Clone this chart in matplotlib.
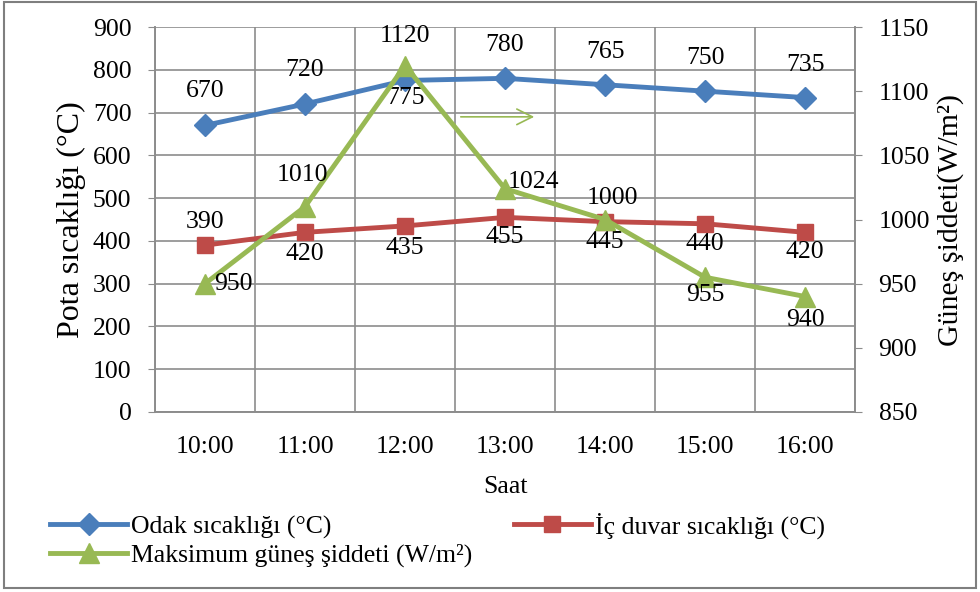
import numpy as np
import matplotlib.pyplot as plt
from matplotlib.patches import Rectangle

plt.rcParams['font.family'] = ['Liberation Serif', 'DejaVu Serif']
plt.rcParams['font.size'] = 18.5

saat = ['10:00', '11:00', '12:00', '13:00', '14:00', '15:00', '16:00']
odak = [670, 720, 775, 780, 765, 750, 735]
duvar = [390, 420, 435, 455, 445, 440, 420]
gunes = [950, 1010, 1120, 1024, 1000, 955, 940]

blue = '#4a7ebb'
red = '#be4b48'
green = '#98b954'
gridc = '#8c8c8c'

fig = plt.figure(figsize=(9.8, 5.92), dpi=100)
ax = fig.add_axes([155 / 980, 1 - 412 / 592, 700 / 980, 385 / 592])
ax2 = ax.twinx()

x = np.arange(len(saat))
l1, = ax.plot(x, odak, color=blue, lw=3.5, marker='D', ms=11, label='Odak sıcaklığı (°C)')
l2, = ax.plot(x, duvar, color=red, lw=3.5, marker='s', ms=12, label='İç duvar sıcaklığı (°C)')
l3, = ax2.plot(x, gunes, color=green, lw=3.5, marker='^', ms=14, label='Maksimum güneş şiddeti (W/m²)')

ax.set_xlim(-0.5, len(saat) - 0.5)
ax.set_ylim(0, 900)
ax.set_yticks(range(0, 901, 100))
ax2.set_ylim(850, 1150)
ax2.set_yticks(range(850, 1151, 50))

ax.set_xticks(x)
ax.set_xticklabels(saat)
ax.set_xticks(np.arange(-0.5, len(saat)), minor=True)
ax.grid(True, axis='y', color=gridc, lw=1.2)
ax.grid(True, axis='x', which='minor', color=gridc, lw=1.2)
ax.set_axisbelow(True)
ax.tick_params(axis='x', which='both', length=0, pad=17)
ax.tick_params(axis='y', length=5, color=gridc, direction='out', pad=12)
ax2.tick_params(axis='y', length=5, color=gridc, direction='out', pad=12)
for a in (ax, ax2):
    for s in a.spines.values():
        s.set_color(gridc)
        s.set_linewidth(1.2)
    a.spines['top'].set_visible(False)

ax.set_xlabel('Saat', labelpad=13)
ax.set_ylabel('Pota sıcaklığı (°C)', fontsize=23, labelpad=5)
ax2.set_ylabel('Güneş şiddeti(W/m²)', fontsize=21.5, labelpad=5)

# value labels, offsets in pixels
odak_off = [(0, 34), (0, 34), (0, -18), (0, 33), (0, 33), (0, 33), (0, 33)]
duvar_off = [(0, 23), (0, -22), (0, -22), (0, -20), (0, -20), (0, -20), (0, -20)]
gunes_off = [(28, 0), (-3, 32), (0, 30), (28, 7), (7, 22), (0, -18), (0, -23)]
for xi, v, o in zip(x, odak, odak_off):
    ax.annotate(str(v), (xi, v), xytext=o, textcoords='offset pixels', ha='center', va='center')
for xi, v, o in zip(x, duvar, duvar_off):
    ax.annotate(str(v), (xi, v), xytext=o, textcoords='offset pixels', ha='center', va='center')
for xi, v, o in zip(x, gunes, gunes_off):
    ax2.annotate(str(v), (xi, v), xytext=o, textcoords='offset pixels', ha='center', va='center')

# arrow pointing to the right axis
ax.annotate('', xy=(3.32, 690), xytext=(2.53, 690),
            arrowprops=dict(arrowstyle='->', color=green, lw=1.2, mutation_scale=28))

fig.legend(handles=[l1, l3, l2], loc='upper left', bbox_to_anchor=(40 / 980, 1 - 502 / 592),
           ncol=2, frameon=False, handlelength=3.0, handletextpad=0.15,
           columnspacing=1.6, labelspacing=0.2, borderaxespad=0, fontsize=18.5)

fig.patches.append(Rectangle((0.004, 0.006), 0.992, 0.99, transform=fig.transFigure,
                             fill=False, edgecolor='#7f7f7f', lw=1.5))

fig.savefig('out.png', dpi=100)
